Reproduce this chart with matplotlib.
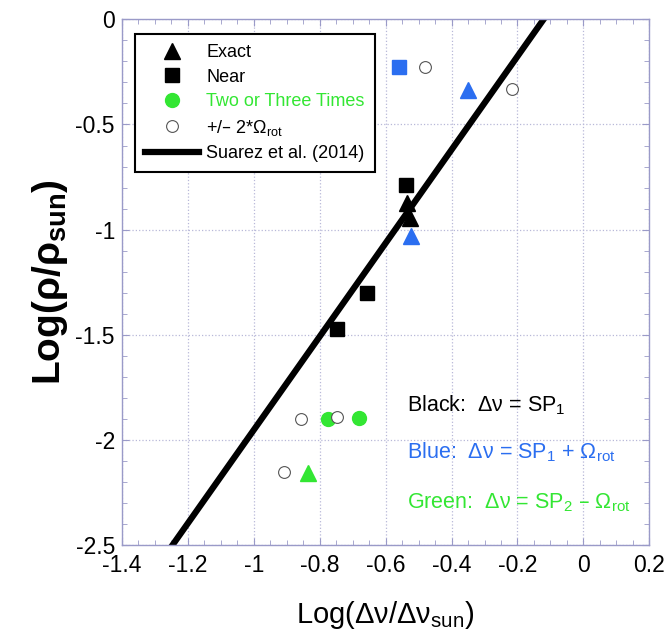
import matplotlib
matplotlib.use("Agg")
import matplotlib.pyplot as plt
import numpy as np
from matplotlib.ticker import MultipleLocator, FormatStrFormatter
from matplotlib.lines import Line2D

plt.rcParams['font.family'] = ['Liberation Sans', 'DejaVu Sans']
plt.rcParams['mathtext.default'] = 'regular'
plt.rcParams['axes.unicode_minus'] = False

# data
exact_x = [-0.535, -0.527]
exact_y = [-0.873, -0.944]
near_x = [-0.537, -0.655, -0.746]
near_y = [-0.786, -1.30, -1.47]
blue_tri_x = [-0.351, -0.524]
blue_tri_y = [-0.337, -1.03]
blue_sq_x = [-0.558]
blue_sq_y = [-0.227]
green_circ_x = [-0.775, -0.681]
green_circ_y = [-1.90, -1.894]
green_tri_x = [-0.836]
green_tri_y = [-2.156]
open_x = [-0.482, -0.217, -0.858, -0.746, -0.908]
open_y = [-0.227, -0.333, -1.90, -1.889, -2.154]

# Suarez et al. (2014) relation
fit_slope = 2.22
fit_icpt = 0.268
fit_xrange = [-1.26, -0.10]

blue = '#2b6ef0'
green = '#33e633'
frame = '#9a9ac8'

fig = plt.figure(figsize=(6.66, 6.43), dpi=100)
ax = fig.add_axes([0.183, 0.152, 0.792, 0.818])

fx = np.array(fit_xrange)
ax.plot(fx, fit_slope * fx + fit_icpt, color='black', lw=4.5, solid_capstyle='round', zorder=2)

ax.plot(open_x, open_y, 'o', ms=8.5, mfc='white', mec='#555555', mew=0.8, ls='none', zorder=4)
ax.plot(exact_x, exact_y, '^', ms=11, color='black', ls='none', zorder=3)
ax.plot(near_x, near_y, 's', ms=10, color='black', ls='none', zorder=3)
ax.plot(blue_tri_x, blue_tri_y, '^', ms=11, color=blue, ls='none', zorder=3)
ax.plot(blue_sq_x, blue_sq_y, 's', ms=10, color=blue, ls='none', zorder=3)
ax.plot(green_circ_x, green_circ_y, 'o', ms=10, color=green, ls='none', zorder=3)
ax.plot(green_tri_x, green_tri_y, '^', ms=11, color=green, ls='none', zorder=3)

ax.set_xlim(-1.4, 0.2)
ax.set_ylim(-2.5, 0)
ax.xaxis.set_major_locator(MultipleLocator(0.2))
ax.xaxis.set_minor_locator(MultipleLocator(0.05))
ax.yaxis.set_major_locator(MultipleLocator(0.5))
ax.yaxis.set_minor_locator(MultipleLocator(0.1))
ax.xaxis.set_major_formatter(FormatStrFormatter('%g'))
ax.yaxis.set_major_formatter(FormatStrFormatter('%g'))
ax.tick_params(which='both', direction='in', top=True, right=True, color=frame,
               labelsize=16.5, labelcolor='black')
ax.tick_params(axis='x', pad=6)
ax.tick_params(axis='y', pad=5)
ax.tick_params(which='major', length=5)
ax.tick_params(which='minor', length=3.5)
for s in ax.spines.values():
    s.set_color(frame)
    s.set_linewidth(1)
ax.grid(True, which='major', ls=':', color='#b8b8d8', lw=0.9)
ax.set_axisbelow(True)

ax.set_xlabel('Log(Δν/Δν$_{sun}$)', fontsize=21, labelpad=16)
ax.set_ylabel('Log(ρ/ρ$_{sun}$)', fontsize=28, fontweight='bold', labelpad=4)

handles = [
    Line2D([], [], marker='^', color='black', ls='none', ms=11),
    Line2D([], [], marker='s', color='black', ls='none', ms=10),
    Line2D([], [], marker='o', color=green, ls='none', ms=10),
    Line2D([], [], marker='o', mfc='white', mec='#555555', mew=0.8, ls='none', ms=8.5),
    Line2D([], [], color='black', lw=4.5),
]
labels = ['Exact', 'Near', 'Two or Three Times', '+/– 2*Ω$_{rot}$', 'Suarez et al. (2014)']
leg = ax.legend(handles, labels, loc='upper left', bbox_to_anchor=(0.025, 0.972),
                borderaxespad=0, fontsize=13, handlelength=3.0, handletextpad=0.4,
                labelspacing=0.42, fancybox=False, framealpha=1, edgecolor='black',
                borderpad=0.55)
leg.get_frame().set_linewidth(1.5)
leg.get_texts()[2].set_color(green)

ax.text(0.541, 0.255, 'Black:  Δν = SP$_1$', transform=ax.transAxes, fontsize=15.5, color='black')
ax.text(0.541, 0.165, 'Blue:  Δν = SP$_1$ + Ω$_{rot}$', transform=ax.transAxes, fontsize=15.5, color=blue)
ax.text(0.541, 0.071, 'Green:  Δν = SP$_2$ – Ω$_{rot}$', transform=ax.transAxes, fontsize=15.5, color=green)

fig.savefig('out.png', dpi=100)
